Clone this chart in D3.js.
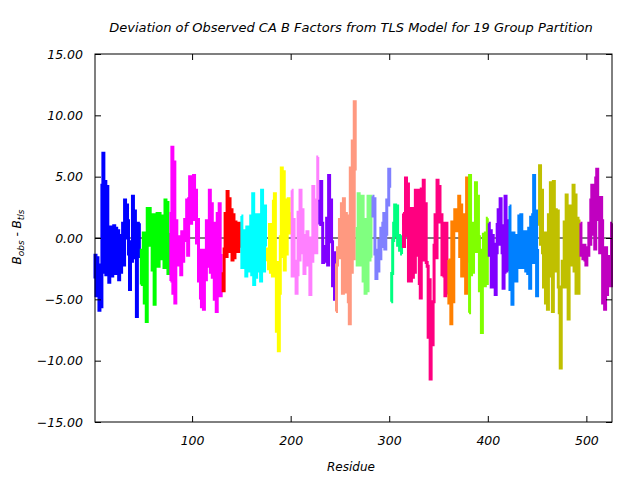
<!DOCTYPE html>
<html><head><meta charset="utf-8">
<script src="https://cdn.jsdelivr.net/npm/d3@7"></script>
<style>
body{margin:0;background:#fff}
text{font-family:"DejaVu Sans",sans-serif;font-style:italic;font-size:12px;fill:#000}
</style>
</head><body>
<svg id="chart" width="640" height="480"></svg>
<script>
const chartTitle = "Deviation of Observed CA B Factors from TLS Model for 19 Group Partition";
const xLabel = "Residue";
const xTicks = [100, 200, 300, 400, 500];
const yTicks = [-15, -10, -5, 0, 5, 10, 15];
const firstResidue = 1;
const groupColors = ["#0000ff","#00ff00","#ff00ff","#ff0000","#00ffff","#ffff00","#ff80ff","#8000ff","#ff9980","#80ff80","#8080ff","#00ff80","#ff0080","#ff8000","#80ff00","#8000ff","#0080ff","#c0c000","#c000c0"];

const g01 = [-3.3,-1.4,-4.7,-1.6,-2.2,-5.9,-2.5,-5.6,4.3,6.9,-2.8,4.6,-3.0,4.2,-2.6,-3.6,0.9,-2.5,-3.1,-0.5,1.0,-2.9,0.8,-2.4,0.6,-3.4,0.2,-2.8,-1.3,1.2,-2.2,3.1,0.0,2.7,1.4,-1.3,-4.2,-0.3,-1.9,3.4,-1.3,2.2,-1.6,-6.4,1.2,-1.5,1.2];
const g02 = [-3.8,-1.0,-2.8,0.4,-5.3,0.3,-6.8,2.4,-0.6,2.4,0.1,1.8,-2.6,1.9,-5.4,-1.6,0.4,2.0,-2.3,2.0,-0.9,1.8,-1.7,0.9,-2.4,3.1,0.7,2.9,-2.9,0.4];
const g03 = [-3.5,2.0,7.4,-4.5,6.2,-5.3,1.4,-1.4,0.1,-2.2,-0.2,-3.0,0.5,-1.9,-0.2,1.5,0.2,3.1,-1.4,3.2,5.0,1.2,4.3,1.5,5.1,1.8,3.9,-0.4,1.5,-3.5,-1.0,-4.9,-5.6,-1.0,-5.8,-1.0,-3.4,1.4,-2.3,-0.9,3.9,-2.8,2.8,-3.2,1.0,-5.0,1.2,-6.0,2.0,-0.2,2.8,-4.7,-1.3];
const g04 = [-2.8,-4.3,-0.9,2.0,-1.5,3.8,-0.4,3.2,-1.1,2.3,-1.8,1.9,-1.6,1.3,-1.0,1.0,-1.1,1.2,-0.8];
const g05 = [1.8,-2.4,0.5,-2.4,0.6,-3.1,0.9,-1.9,0.1,-2.7,1.8,-3.0,3.6,-3.8,0.1,-3.2,1.9,-1.8,1.9,-2.7,-3.5,3.9,-0.8,-2.7,2.6,-0.7];
const g06 = [-1.9,-0.9,-2.5,1.1,-2.8,0.5,-3.1,3.0,3.6,-2.3,-7.6,-2.0,-9.2,-4.5,0.1,5.7,-1.5,5.4,-2.6,3.1,-1.3,1.1,3.2,0.4,2.1];
const g07 = [3.9,-3.1,1.5,-2.4,-1.9,-4.5,-3.0,2.1,-1.8,3.9,0.4,2.3,-1.2,-2.9,0.2,-1.8,0.5,-2.2,-0.1,-4.6,0.0,-1.9,4.2,-0.5,2.3,-1.2,3.1,6.6];
const g08 = [1.1,3.0,4.6,1.2,-2.0,-0.7,-1.9,-0.9,1.6,-2.2,5.1,1.0,3.1,-0.3,-3.9,-1.2,-5.0];
const g09 = [-6.0,-2.2,-0.8,-1.2,1.5,-1.6,2.8,-4.5,3.2,-4.4,2.0,-1.2,1.8,-5.2,-7.0,5.7,-2.8,7.9,-1.7,11.1,5.5];
const g10 = [0.9,-2.2,3.6,-2.2,3.3,0.6,3.4,-3.5,-1.8,-4.5,1.5,-4.3,3.4,-1.8,3.4,-1.6];
const g11 = [3.4,1.8,3.2,-1.3,-3.3,-1.0,-2.7,-0.2,-1.7,0.8,-0.7,1.2,2.0,-0.9,0.3,3.1,2.7,5.6,4.1];
const g12 = [-5.2,-2.9,-0.2,1.2,2.7,0.2,2.6,-0.6,0.2,-1.0,0.1,-1.3];
const g13 = [2.0,-0.7,2.0,4.9,0.2,4.4,-3.5,-2.6,-3.5,2.4,-3.2,2.4,-2.8,3.9,-1.4,3.9,-1.2,-3.7,-4.9,4.0,-1.8,4.7,1.8,2.8,-2.0,-2.3,-8.1,-3.4,-11.5,-6.9,-8.7,-5.2,-0.6,1.9,-1.6,4.7,1.3,4.2,1.4,1.9,-3.0,1.2,-3.1,-4.7,1.2,-4.6];
const g14 = [-1.8,-5.3,-2.0,-7.0,1.3,-5.2,0.8,2.3,0.6,2.2,1.0,3.4,-1.5,2.7,-3.1,1.9,-2.4,1.2,-4.5,4.9,-2.0];
const g15 = [-6.1,5.1,-3.0,1.2,-2.8,1.2,-0.5,4.5,-1.1,3.4,0.1,-4.3,-1.0,-7.7,-3.8,0.3,-3.9,0.4,-3.7,1.6];
const g16 = [1.2,-1.4,0.6,-4.0,0.2,-4.0,-0.5,-4.6,-1.2,1.1,2.3,-0.5,3.2,1.0,-1.2,-4.1,-2.8,3.4,-1.2,1.4,-2.7];
const g17 = [2.6,-4.2,-0.3,-5.4,0.4,-3.5,0.2,-3.5,-0.2,-1.9,1.8,-2.4,1.9,-1.1,0.5,-2.4,0.5,-2.7,0.4,-2.9,0.8,-4.1,1.7,-2.0,1.9,5.1,-2.0,2.2,-4.7,-0.9];
const g18 = [1.0,5.9,-0.5,3.9,-1.2,-4.0,0.4,-5.3,-1.2,-5.8,1.9,-2.8,4.5,-3.1,-6.0,4.6,-2.7,2.3,-2.7,2.2,-4.0,-6.1,-10.6,-4.0,-1.9,-3.4,1.3,-4.0,3.5,-3.9,-6.6,2.6,-2.2,1.5,-2.1,4.3,-2.7,3.5,-4.5,1.6,-4.5,1.5];
const g19 = [1.2,-1.4,-0.6,-1.7,-0.6,-1.8,-2.2,-0.8,-1.4,1.2,-0.5,3.1,4.3,0.3,4.1,-0.9,4.9,5.6,3.3,1.5,-1.2,3.3,1.4,-5.3,-1.3,-5.8,-0.8,-4.6,-1.5,-3.5,-2.2,-3.9,1.2];
const groupValues = [g01,g02,g03,g04,g05,g06,g07,g08,g09,g10,g11,g12,g13,g14,g15,g16,g17,g18,g19];

// Build residue-indexed series per group
let res = firstResidue;
const series = groupValues.map((vals, i) => {
  const pts = vals.map(v => ({r: res++, v}));
  return {color: groupColors[i], pts};
});
const lastResidue = res - 1;

const svg = d3.select("#chart");
const L = 95, R = 612, T = 54, B = 422;
const x = d3.scaleLinear().domain([1.5, lastResidue]).range([L, R]);
const y = d3.scaleLinear().domain([-15, 15]).range([B, T]);

// zero line
svg.append("line").attr("x1", L).attr("x2", R).attr("y1", y(0)).attr("y2", y(0))
  .attr("stroke", "#000").attr("stroke-width", 1);

const line = d3.line().x(d => x(d.r)).y(d => y(d.v)).curve(d3.curveStep);
svg.append("g").selectAll("path").data(series).join("path")
  .attr("d", d => line(d.pts))
  .attr("fill", "none").attr("stroke", d => d.color)
  .attr("stroke-width", 3).attr("stroke-linejoin", "miter").attr("stroke-linecap", "butt");

// axes (gnuplot style, inward ticks, mirrored)
const tk = 6;
const axL = svg.append("g").attr("transform", `translate(${L},0)`)
  .call(d3.axisLeft(y).tickValues(yTicks).tickSize(-tk).tickPadding(12).tickFormat(d3.format(".2f")));
const axR = svg.append("g").attr("transform", `translate(${R},0)`)
  .call(d3.axisRight(y).tickValues(yTicks).tickSize(-tk).tickFormat(""));
const axB = svg.append("g").attr("transform", `translate(0,${B})`)
  .call(d3.axisBottom(x).tickValues(xTicks).tickSize(-tk).tickPadding(14).tickFormat(d3.format("d")));
const axT = svg.append("g").attr("transform", `translate(0,${T})`)
  .call(d3.axisTop(x).tickValues(xTicks).tickSize(-tk).tickFormat(""));
[axL, axR, axB, axT].forEach(a => {
  a.select(".domain").remove();
  a.selectAll("line").attr("stroke", "#000");
  a.selectAll("text").style("font-family", '"DejaVu Sans",sans-serif').style("font-style", "italic").style("font-size", "12.5px").attr("fill", "#000");
});
axL.selectAll("text").attr("x", -12);
svg.append("rect").attr("x", L).attr("y", T).attr("width", R - L).attr("height", B - T)
  .attr("fill", "none").attr("stroke", "#000").attr("stroke-width", 1);

// titles
svg.append("text").attr("x", 351).attr("y", 32).attr("text-anchor", "middle").style("font-size", "13px").text(chartTitle);
svg.append("text").attr("x", 351).attr("y", 471).attr("text-anchor", "middle").text(xLabel);
const yl = svg.append("text").attr("transform", "translate(21,237) rotate(-90)").attr("text-anchor", "middle");
yl.append("tspan").text("B");
yl.append("tspan").attr("dy", 3).style("font-size", "9px").text("obs");
yl.append("tspan").attr("dy", -3).text(" - B");
yl.append("tspan").attr("dy", 3).style("font-size", "9px").text("tls");
</script>
</body></html>
